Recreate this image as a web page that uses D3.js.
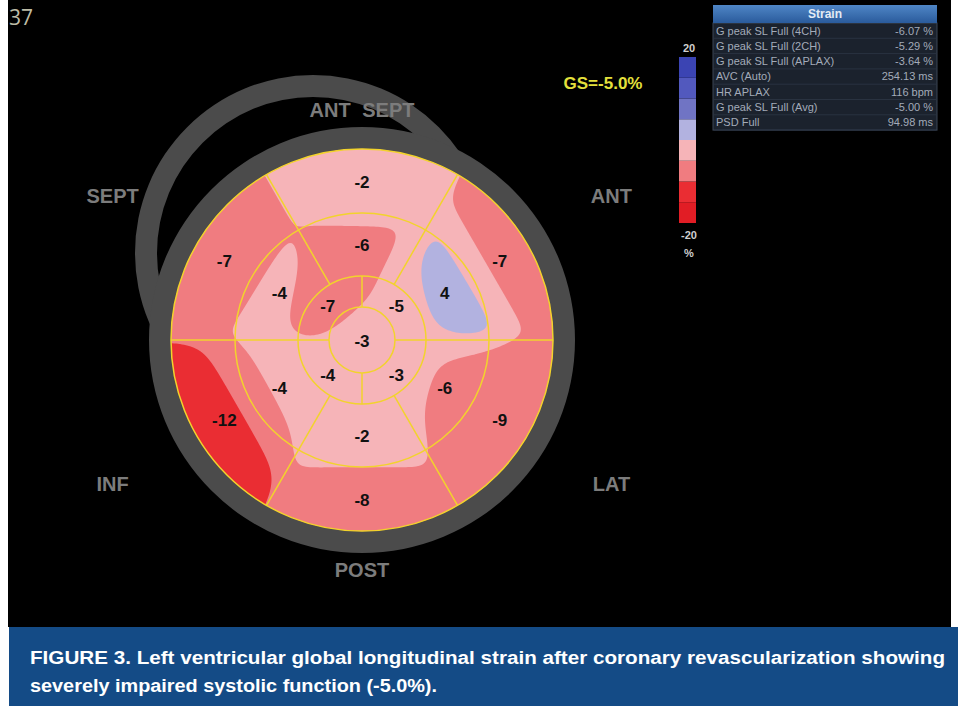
<!DOCTYPE html>
<html>
<head>
<meta charset="utf-8">
<script src="https://cdn.jsdelivr.net/npm/d3@7"></script>
<style>
body { margin: 0; background: #fff; }
svg { display: block; }
text { font-family: "Liberation Sans", Arial, sans-serif; }
</style>
</head>
<body>
<svg id="chart" width="958" height="706"></svg>
<script>
// strain per segment, clockwise from the top (ANT SEPT)
const basalValues = [-2, -7, -9, -8, -12, -7]
const midValues = [-6, 4, -6, -2, -4, -4]
// apical ring: top-right, bottom-right, bottom-left, top-left
const apicalValues = [-5, -3, -4, -7]
const apexValue = -3

const wallNames = ["ANT SEPT", "ANT", "LAT", "POST", "INF", "SEPT"]

// colour bar, from -20 up to 20 in steps of 5
const legendColors = ["#e11d25", "#ea2d33", "#f07c80", "#f6b4b8", "#b2b2e0", "#7074c4", "#5259be", "#3b44b3"]
const legendTicks = [20, -20]
const legendUnit = "%"

const tableTitle = "Strain"
const tableNames = ["G peak SL Full (4CH)", "G peak SL Full (2CH)", "G peak SL Full (APLAX)", "AVC (Auto)", "HR APLAX", "G peak SL Full (Avg)", "PSD Full"]
const tableValues = ["-6.07 %", "-5.29 %", "-3.64 %", "254.13 ms", "116 bpm", "-5.00 %", "94.98 ms"]

const globalStrain = "GS=-5.0%"
const frameNumber = "37"
const captionLines = [
	"FIGURE 3. Left ventricular global longitudinal strain after coronary revascularization showing",
	"severely impaired systolic function (-5.0%)."
]


const svg = d3.select("#chart")

// layout
const cx = 362, cy = 340
const R = 191, rMid = 127, rApical = 64, rApex = 33

svg.append("rect").attr("x", 8).attr("y", 0).attr("width", 943).attr("height", 627).attr("fill", "#000")

// grey outline around the bull's eye
const ring = d3.arc().startAngle(0).endAngle(2 * Math.PI)
svg.append("path")
	.attr("transform", "translate(" + (cx - 49) + "," + (cy - 87) + ")")
	.attr("d", ring({innerRadius: 156, outerRadius: 178}))
	.attr("fill", "#4b4b4b")
svg.append("path")
	.attr("transform", "translate(" + cx + "," + cy + ")")
	.attr("d", ring({innerRadius: R - 1, outerRadius: 213}))
	.attr("fill", "#4b4b4b")

const polar = function (r, deg) {
	const a = deg * Math.PI / 180
	return [r * Math.sin(a), -r * Math.cos(a)] }

// one sample at the centre of every segment
const samples = []
basalValues.forEach((v, i) => samples.push({p: polar((R + rMid) / 2, i * 60), v: v}))
midValues.forEach((v, i) => samples.push({p: polar((rMid + rApical) / 2, i * 60), v: v}))
apicalValues.forEach((v, i) => samples.push({p: polar((rApical + rApex) / 2, 45 + i * 90), v: v}))
samples.push({p: [0, 0], v: apexValue})

// smooth colour map between the segment values
const cell = 2
const n = Math.ceil(2 * R / cell) + 4
const x0 = -R - 2 * cell
const sigma = 28
const grid = new Float64Array(n * n)
for (let j = 0; j < n; j++) {
	for (let i = 0; i < n; i++) {
		const x = x0 + (i + 0.5) * cell, y = x0 + (j + 0.5) * cell
		let sw = 0, sv = 0
		samples.forEach(s => {
			const dx = x - s.p[0], dy = y - s.p[1]
			const w = Math.exp(-(dx * dx + dy * dy) / (2 * sigma * sigma))
			sw += w
			sv += w * s.v })
		grid[j * n + i] = sv / sw
	}
}

const color = d3.scaleQuantize().domain([-20, 20]).range(legendColors)

const contours = d3.contours().size([n, n]).thresholds(d3.range(-20, 20, 5))(grid)
const contourPath = d3.geoPath(d3.geoIdentity().scale(cell).translate([cx + x0, cy + x0]))

svg.append("clipPath").attr("id", "disc")
	.append("circle").attr("cx", cx).attr("cy", cy).attr("r", R)

svg.append("g")
	.attr("clip-path", "url(#disc)")
	.selectAll("path")
	.data(contours)
	.enter()
	.append("path")
	.attr("d", contourPath)
	.attr("fill", d => color(d.value + 2.5))

// segment borders
const yellow = "#f2d32c"
const borders = svg.append("g")
	.attr("transform", "translate(" + cx + "," + cy + ")")
	.attr("stroke", yellow)
	.attr("stroke-width", 1.5)
	.attr("fill", "none")

borders.selectAll("circle")
	.data([R, rMid, rApical, rApex])
	.enter()
	.append("circle")
	.attr("r", d => d)

borders.selectAll(".outerSpoke")
	.data(d3.range(6).map(i => 30 + i * 60))
	.enter()
	.append("line")
	.attr("class", "outerSpoke")
	.attr("x1", d => polar(rApical, d)[0]).attr("y1", d => polar(rApical, d)[1])
	.attr("x2", d => polar(R, d)[0]).attr("y2", d => polar(R, d)[1])

borders.selectAll(".innerSpoke")
	.data(d3.range(4).map(i => i * 90))
	.enter()
	.append("line")
	.attr("class", "innerSpoke")
	.attr("x1", d => polar(rApex, d)[0]).attr("y1", d => polar(rApex, d)[1])
	.attr("x2", d => polar(rApical, d)[0]).attr("y2", d => polar(rApical, d)[1])

// segment values
const labels = svg.append("g")
	.attr("transform", "translate(" + cx + "," + cy + ")")
	.attr("text-anchor", "middle")
	.attr("dominant-baseline", "central")
	.style("font-size", "17px")
	.style("font-weight", "bold")
	.attr("fill", "#111")

labels.selectAll("text")
	.data(samples)
	.enter()
	.append("text")
	.attr("x", d => d.p[0])
	.attr("y", d => d.p[1] + 1)
	.text(d => d.v)

// wall names
const wallRadius = [230, 288, 288, 230, 288, 288]
svg.append("g")
	.attr("transform", "translate(" + cx + "," + cy + ")")
	.attr("text-anchor", "middle")
	.attr("dominant-baseline", "central")
	.style("font-size", "20px")
	.style("font-weight", "bold")
	.style("word-spacing", "6px")
	.attr("fill", "#7c7c7c")
	.selectAll("text")
	.data(wallNames)
	.enter()
	.append("text")
	.attr("x", (d, i) => polar(wallRadius[i], i * 60)[0])
	.attr("y", (d, i) => polar(wallRadius[i], i * 60)[1])
	.text(d => d)

svg.append("text")
	.attr("x", 9).attr("y", 25)
	.style("font-family", "'Open Sans', 'DejaVu Sans', sans-serif")
	.style("font-size", "21px")
	.attr("fill", "#bdbca6")
	.text(frameNumber)

svg.append("text")
	.attr("x", 603).attr("y", 89)
	.attr("text-anchor", "middle")
	.style("font-size", "17px")
	.style("font-weight", "bold")
	.attr("fill", "#e4e03c")
	.text(globalStrain)

// colour bar
const yLegend = d3.scaleLinear().domain([-20, 20]).range([223, 57])
const bands = d3.range(-20, 20, 5)
svg.append("g")
	.selectAll("rect")
	.data(bands)
	.enter()
	.append("rect")
	.attr("x", 679)
	.attr("y", d => yLegend(d + 5))
	.attr("width", 17)
	.attr("height", d => yLegend(d) - yLegend(d + 5))
	.attr("fill", d => color(d + 2.5))

const legendText = svg.append("g")
	.attr("text-anchor", "middle")
	.attr("dominant-baseline", "central")
	.style("font-size", "11px")
	.style("font-weight", "bold")
	.attr("fill", "#cfcfcf")
legendText.selectAll("text")
	.data(legendTicks)
	.enter()
	.append("text")
	.attr("x", 689)
	.attr("y", d => yLegend(d) + (d > 0 ? -9 : 12))
	.text(d => d)
legendText.append("text")
	.attr("x", 689).attr("y", 253)
	.text(legendUnit)

// results table
const tx = 713, tw = 224, headTop = 5, headH = 18, rowH = 15.3
const grad = svg.append("defs").append("linearGradient").attr("id", "head").attr("x1", 0).attr("x2", 0).attr("y1", 0).attr("y2", 1)
grad.append("stop").attr("offset", "0%").attr("stop-color", "#4f86c6")
grad.append("stop").attr("offset", "100%").attr("stop-color", "#2a5b9c")

svg.append("rect")
	.attr("x", tx).attr("y", headTop + headH)
	.attr("width", tw).attr("height", rowH * tableNames.length)
	.attr("fill", "#1b222d")
	.attr("stroke", "#3c4757")
svg.append("rect")
	.attr("x", tx).attr("y", headTop)
	.attr("width", tw).attr("height", headH)
	.attr("fill", "url(#head)")
svg.append("text")
	.attr("x", tx + tw / 2).attr("y", headTop + 13)
	.attr("text-anchor", "middle")
	.style("font-size", "12px")
	.style("font-weight", "bold")
	.attr("fill", "#e4ebf4")
	.text(tableTitle)

const rows = svg.append("g")
	.selectAll("g")
	.data(tableNames)
	.enter()
	.append("g")
	.attr("transform", (d, i) => "translate(0," + (headTop + headH + i * rowH) + ")")
	.style("font-size", "11px")
	.attr("fill", "#a3abb9")

rows.append("line")
	.attr("x1", tx + 1).attr("x2", tx + tw - 1)
	.attr("y1", rowH).attr("y2", rowH)
	.attr("stroke", "#293240")
rows.append("text")
	.attr("x", tx + 3).attr("y", 11.5)
	.text(d => d)
rows.append("text")
	.attr("x", tx + tw - 4).attr("y", 11.5)
	.attr("text-anchor", "end")
	.text((d, i) => tableValues[i])

// caption
svg.append("rect").attr("x", 9).attr("y", 627).attr("width", 949).attr("height", 79).attr("fill", "#144b86")
const captionWidth = [915, 407]
svg.append("g")
	.style("font-family", "Roboto, 'Liberation Sans', sans-serif")
	.style("font-size", "18px")
	.style("font-weight", "bold")
	.attr("fill", "#fff")
	.selectAll("text")
	.data(captionLines)
	.enter()
	.append("text")
	.attr("x", 30)
	.attr("y", (d, i) => 664 + i * 28)
	.attr("textLength", (d, i) => captionWidth[i])
	.attr("lengthAdjust", "spacingAndGlyphs")
	.text(d => d)
</script>
</body>
</html>
